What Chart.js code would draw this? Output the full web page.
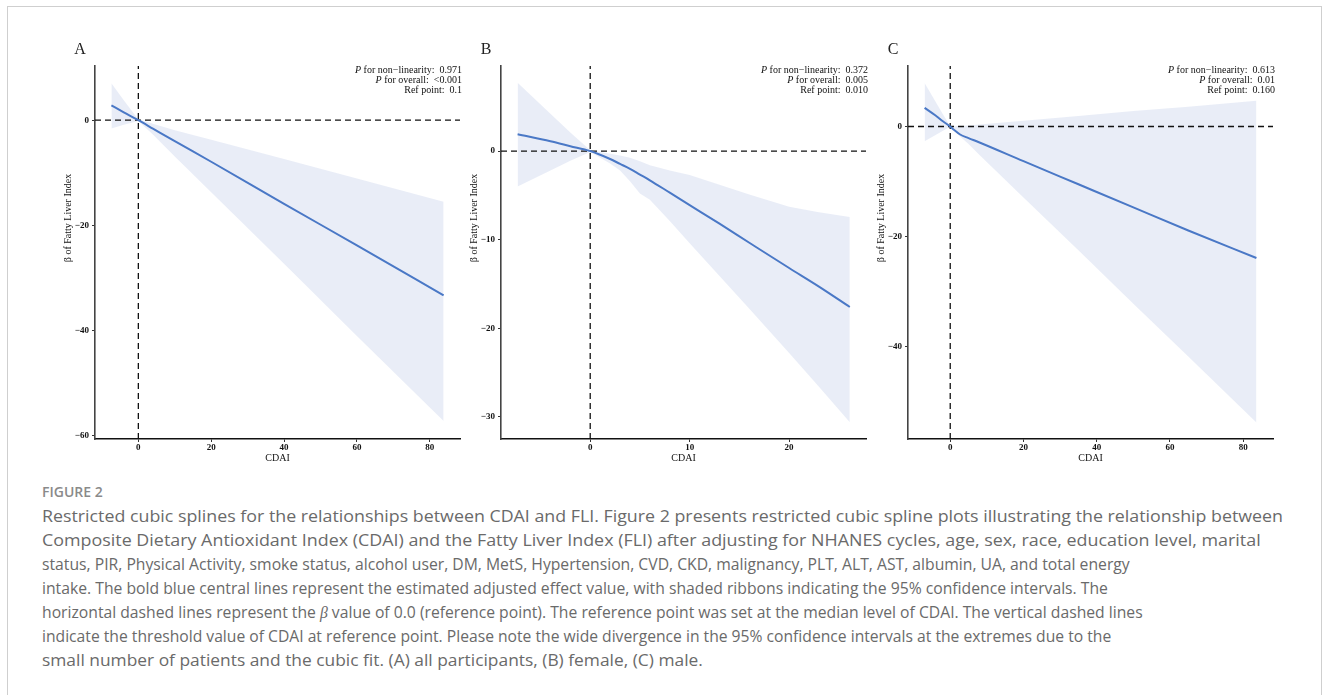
<!DOCTYPE html>
<html><head><meta charset="utf-8">
<script src="https://cdn.jsdelivr.net/npm/chart.js@4.4.1/dist/chart.umd.min.js"></script>
<style>
html,body{margin:0;padding:0;background:#fff;width:1331px;height:695px;overflow:hidden;position:relative;}
#frame{position:absolute;left:7px;top:6px;width:1315px;height:760px;border:1px solid #cfcfcf;box-sizing:border-box;}
canvas{position:absolute;}
.cap{position:absolute;left:42px;white-space:nowrap;font-family:'Open Sans',sans-serif;font-size:17px;color:#6a6a6a;transform-origin:0 50%;line-height:24px;height:24px;}
#fig{position:absolute;left:42px;top:482px;font-family:'Open Sans',sans-serif;font-size:14px;font-weight:600;color:#8a8a8a;line-height:20px;}
</style></head>
<body>
<div id="frame"></div>
<canvas id="cA" width="470" height="440" style="left:0px;top:40px"></canvas>
<canvas id="cB" width="420" height="440" style="left:455px;top:40px"></canvas>
<canvas id="cC" width="430" height="440" style="left:870px;top:40px"></canvas>
<div id="fig">FIGURE 2</div>
<div class="cap" data-w="1241" style="top:504px">Restricted cubic splines for the relationships between CDAI and FLI. Figure 2 presents restricted cubic spline plots illustrating the relationship between</div>
<div class="cap" data-w="1219" style="top:528px">Composite Dietary Antioxidant Index (CDAI) and the Fatty Liver Index (FLI) after adjusting for NHANES cycles, age, sex, race, education level, marital</div>
<div class="cap" data-w="1088" style="top:552px">status, PIR, Physical Activity, smoke status, alcohol user, DM, MetS, Hypertension, CVD, CKD, malignancy, PLT, ALT, AST, albumin, UA, and total energy</div>
<div class="cap" data-w="1066" style="top:576px">intake. The bold blue central lines represent the estimated adjusted effect value, with shaded ribbons indicating the 95% confidence intervals. The</div>
<div class="cap" data-w="1101" style="top:600px">horizontal dashed lines represent the <i style="font-family:'Liberation Serif',serif">β</i> value of 0.0 (reference point). The reference point was set at the median level of CDAI. The vertical dashed lines</div>
<div class="cap" data-w="1069" style="top:624px">indicate the threshold value of CDAI at reference point. Please note the wide divergence in the 95% confidence intervals at the extremes due to the</div>
<div class="cap" data-w="661" style="top:648px">small number of patients and the cubic fit. (A) all participants, (B) female, (C) male.</div>
<script>
// ---------- Data ----------
// Panel A: all participants
const xA   = [-7.4, -4, 0, 4, 10, 20, 40, 60, 83.8];
const fitA = [2.8, 1.5, 0, -1.6, -4.0, -7.9, -15.9, -23.8, -33.3];
const upA  = [7.0, 3.8, 0.15, -0.7, -1.9, -3.7, -7.4, -11.1, -15.5];
const loA  = [-1.6, -0.85, -0.15, -2.7, -6.9, -13.7, -27.3, -41.0, -57.2];
const xTicksA = [0, 20, 40, 60, 80];
const yTicksA = [0, -20, -40, -60];
const xLimA = [-11.9, 88.3];
const yLimA = [-60.6, 10.3];
const statsA = ['0.971', '<0.001', '0.1'];

// Panel B: female
const xB   = [-7.3, -4, -2, 0, 2, 3, 4, 5, 6, 8, 10, 13, 16, 20, 23, 26.1];
const fitB = [1.9, 1.1, 0.55, 0, -0.9, -1.45, -2.0, -2.65, -3.3, -4.7, -6.1, -8.2, -10.35, -13.2, -15.3, -17.6];
const upB  = [7.7, 4.2, 2.1, 0.1, -0.3, -0.5, -0.75, -1.15, -1.6, -2.2, -2.7, -3.8, -4.9, -6.3, -6.9, -7.45];
const loB  = [-4.0, -2.2, -1.1, -0.1, -1.4, -2.2, -3.4, -4.8, -5.5, -7.9, -10.4, -14.1, -17.8, -22.8, -26.6, -30.6];
const xTicksB = [0, 10, 20];
const yTicksB = [0, -10, -20, -30];
const xLimB = [-8.97, 27.73];
const yLimB = [-32.5, 9.6];
const statsB = ['0.372', '0.005', '0.010'];

// Panel C: male
const xC   = [-7.0, -4, -2, 0, 1, 2.7, 5, 8, 20, 35, 50, 65, 83.6];
const fitC = [3.4, 2.0, 0.95, 0, -0.6, -1.45, -2.1, -2.9, -6.3, -10.5, -14.7, -18.9, -23.9];
const upC  = [7.9, 4.5, 2.25, 0.05, 0.0, 0.1, 0.2, 0.35, 1.05, 1.9, 2.8, 3.6, 4.7];
const loC  = [-2.7, -1.55, -0.75, -0.05, -0.7, -1.8, -3.2, -5.2, -12.9, -22.5, -32.2, -41.8, -53.8];
const xTicksC = [0, 20, 40, 60, 80];
const yTicksC = [0, -20, -40];
const xLimC = [-11.53, 88.13];
const yLimC = [-56.8, 11.0];
const statsC = ['0.613', '0.01', '0.160'];

// ---------- Styling ----------
const LINE = '#4a78c6';
const RIB = 'rgba(226,231,244,0.75)';
const SERIF = '"Liberation Serif","Times New Roman",serif';

const fmt = v => (v < 0 ? '\u2212' + Math.abs(v) : '' + v);
const pts = (xs, ys) => xs.map((x, i) => ({x, y: ys[i]}));

const deco = {
  id: 'deco',
  afterDraw(chart, args, o) {
    const {ctx, chartArea: a} = chart;
    ctx.save();
    ctx.fillStyle = '#222';
    ctx.textAlign = 'center';
    ctx.textBaseline = 'middle';
    ctx.font = '16px ' + SERIF;
    ctx.fillText(o.letter, a.left - 15, a.top - 16);
    ctx.save();
    ctx.translate(a.left - 27, a.top + 152);
    ctx.rotate(-Math.PI / 2);
    ctx.font = '10px ' + SERIF;
    ctx.fillStyle = '#111';
    ctx.fillText('\u03b2 of Fatty Liver Index', 0, 0);
    ctx.restore();
    const lines = [['P', ' for non\u2212linearity:  ' + o.stats[0]],
                   ['P', ' for overall:  ' + o.stats[1]],
                   ['', 'Ref point:  ' + o.stats[2]]];
    const right = a.right + 2;
    ctx.fillStyle = '#111';
    ctx.textAlign = 'left';
    lines.forEach((l, i) => {
      const y = a.top + 4 + i * 10;
      ctx.font = '10px ' + SERIF;
      const w2 = ctx.measureText(l[1]).width;
      ctx.font = 'italic 10px ' + SERIF;
      const w1 = ctx.measureText(l[0]).width;
      ctx.fillText(l[0], right - w1 - w2, y);
      ctx.font = '10px ' + SERIF;
      ctx.fillText(l[1], right - w2, y);
    });
    ctx.restore();
  }
};

function makeChart(id, xs, fit, up, lo, xt, yt, xl, yl, stats, letter, yW, padR) {
  const dash = {borderColor: '#111', borderWidth: 1.3, borderDash: [6, 4], pointRadius: 0, fill: false};
  new Chart(document.getElementById(id), {
    type: 'line',
    data: {
      datasets: [
        {data: pts(xs, fit), borderColor: LINE, borderWidth: 2, pointRadius: 0, fill: false, cubicInterpolationMode: 'monotone'},
        Object.assign({data: [{x: xl[0], y: 0}, {x: xl[1], y: 0}]}, dash),
        Object.assign({data: [{x: 0, y: yl[0]}, {x: 0, y: yl[1]}]}, dash),
        {data: pts(xs, up), borderWidth: 0, borderColor: 'rgba(0,0,0,0)', pointRadius: 0, fill: false},
        {data: pts(xs, lo), borderWidth: 0, borderColor: 'rgba(0,0,0,0)', pointRadius: 0, fill: '-1', backgroundColor: RIB}
      ]
    },
    options: {
      responsive: false, animation: false, devicePixelRatio: 1,
      layout: {padding: {left: 0, top: 26, right: padR, bottom: 0}},
      plugins: {legend: {display: false}, tooltip: {enabled: false}, deco: {letter, stats}},
      scales: {
        x: {
          type: 'linear', min: xl[0], max: xl[1],
          afterBuildTicks: s => { s.ticks = xt.map(v => ({value: v})); },
          afterFit: s => { s.height = 41; },
          grid: {display: true, drawOnChartArea: false, drawTicks: true, tickLength: 3, tickColor: '#333', tickWidth: 1},
          border: {display: true, color: '#111', width: 1.5},
          ticks: {font: {family: SERIF, size: 9, weight: 'bold'}, color: '#111', padding: 0, maxRotation: 0, autoSkip: false, callback: fmt},
          title: {display: true, text: 'CDAI', font: {family: SERIF, size: 10}, color: '#111', padding: {top: 0, bottom: 16}}
        },
        y: {
          type: 'linear', min: yl[0], max: yl[1],
          afterBuildTicks: s => { s.ticks = yt.map(v => ({value: v})); },
          afterFit: s => { s.width = yW; },
          grid: {display: true, drawOnChartArea: false, drawTicks: true, tickLength: 3, tickColor: '#333', tickWidth: 1},
          border: {display: true, color: '#444', width: 1.6},
          ticks: {font: {family: SERIF, size: 9, weight: 'bold'}, color: '#111', padding: 3, autoSkip: false, callback: fmt}
        }
      }
    },
    plugins: [deco]
  });
}

makeChart('cA', xA, fitA, upA, loA, xTicksA, yTicksA, xLimA, yLimA, statsA, 'A', 95, 10);
makeChart('cB', xB, fitB, upB, loB, xTicksB, yTicksB, xLimB, yLimB, statsB, 'B', 46, 9);
makeChart('cC', xC, fitC, upC, loC, xTicksC, yTicksC, xLimC, yLimC, statsC, 'C', 38, 27);

// fit caption lines to the widths seen in the figure
document.querySelectorAll('.cap').forEach(el => {
  const w = +el.dataset.w;
  const nat = el.scrollWidth;
  if (nat > 0) el.style.transform = 'scaleX(' + (w / nat) + ')';
});
</script>
</body></html>
